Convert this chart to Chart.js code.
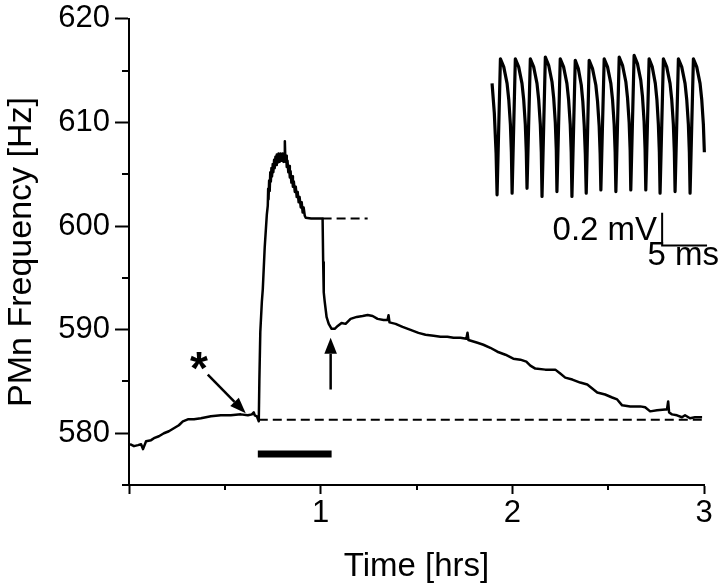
<!DOCTYPE html>
<html>
<head>
<meta charset="utf-8">
<script src="https://cdn.jsdelivr.net/npm/chart.js@4"></script>
<style>
  html, body { margin: 0; padding: 0; background: #ffffff; }
  #wrap { width: 720px; height: 588px; position: relative; }
</style>
</head>
<body>
<div id="wrap"><canvas id="c" width="720" height="588"></canvas></div>
<script>
// ---------- data ----------
const timeHrs = [0.005,0.026,0.047,0.063,0.073,0.089,0.115,0.130,0.156,0.182,0.208,0.234,0.260,0.281,0.307,0.339,0.375,0.427,0.479,0.531,0.583,0.620,0.641,0.651,0.656,0.667,0.677,
  0.680,0.685,0.693,0.698,0.708,0.719,0.724,
  0.726,0.728,0.731,0.734,0.737,0.740,0.743,0.746,0.750,0.753,0.757,0.760,0.764,0.768,0.771,0.775,0.780,0.786,0.791,0.797,0.802,0.806,0.810,0.813,0.816,0.820,0.823,0.827,0.831,0.835,0.839,0.843,0.847,0.851,0.855,0.860,0.865,0.870,0.875,0.880,0.885,0.890,0.896,0.901,0.906,0.911,0.917,0.922,0.950,1.010,
  1.013,1.016,1.021,1.031,1.042,1.057,1.073,1.089,1.109,1.130,1.156,1.188,1.219,1.245,1.271,1.297,1.328,1.349,1.354,1.359,1.391,1.427,1.469,1.510,1.547,1.589,1.625,1.661,1.693,1.729,1.760,1.766,1.771,1.818,1.849,1.885,1.922,1.964,2.005,2.042,2.073,2.094,2.120,2.172,2.224,2.250,2.276,2.313,2.354,2.391,2.417,2.443,2.484,2.521,2.547,2.573,2.615,2.667,2.693,2.719,2.755,2.797,2.807,2.813,2.818,2.833,2.859,2.885,2.901,2.927,2.953,2.990];
const freqHz = [578.94,578.75,578.85,578.94,578.46,579.23,579.33,579.52,579.71,580.00,580.19,580.48,580.77,581.15,581.34,581.34,581.44,581.63,581.73,581.73,581.82,581.73,581.82,582.02,581.73,581.63,581.15,
  584.99,589.79,592.67,593.92,597.95,601.11,601.98,
  603.6,602.6,604.4,603.4,605.2,604.3,605.6,604.8,606.0,605.2,606.4,605.6,606.7,605.9,606.9,606.1,607.0,606.2,607.0,606.3,607.0,606.2,606.9,608.2,606.2,606.8,605.7,606.3,605.2,605.8,604.7,605.3,604.2,604.8,603.8,604.3,603.3,603.8,602.8,603.3,602.3,602.8,601.8,602.3,601.3,601.8,601.0,600.8,600.73,600.73,
  596.5,593.6,592.7,591.2,590.56,590.08,590.08,590.36,590.65,590.56,591.04,591.23,591.32,591.42,591.32,591.04,590.94,590.94,591.4,590.7,590.56,590.27,589.98,589.69,589.50,589.40,589.31,589.31,589.21,589.21,589.12,589.7,589.0,588.73,588.54,588.25,587.87,587.58,587.20,587.10,586.91,586.53,586.24,586.14,586.14,585.76,585.37,585.18,584.89,584.70,584.32,583.93,583.74,583.45,583.26,582.69,582.59,582.59,582.50,582.11,582.21,582.30,582.30,583.07,582.0,581.82,581.73,581.54,581.73,581.44,581.54,581.54];

const baselineHrs = [0.677, 2.990];
const baselineHz  = [581.3, 581.3];
const plateauHrs  = [1.010, 1.245];
const plateauHz   = [600.73, 600.73];
const stimHrs     = [0.672, 1.057];
const stimHz      = [578.0, 578.0];

// inset: motoneuron recording (ms, mV)
const insetMs = [0,0.25,0.45,0.556,
  0.93,1.30,1.67,1.86,2.04,2.15,2.23,
  2.59,2.96,3.33,3.52,3.70,3.81,3.89,
  4.26,4.63,5.00,5.19,5.37,5.48,5.56,
  5.93,6.30,6.67,6.86,7.04,7.15,7.22,
  7.59,7.96,8.33,8.52,8.70,8.81,8.89,
  9.26,9.60,9.93,10.10,10.26,10.38,10.48,
  10.81,11.18,11.55,11.74,11.92,12.03,12.11,
  12.48,12.85,13.22,13.41,13.59,13.70,13.78,
  14.15,14.52,14.89,15.08,15.26,15.37,15.44,
  15.81,16.18,16.55,16.74,16.92,17.03,17.11,
  17.48,17.83,18.17,18.35,18.51,18.62,18.70,
  19.07,19.44,19.81,20.00,20.18,20.29,20.37,
  20.74,21.11,21.48,21.67,21.85,21.96,22.04,
  22.41,22.78,23.15,23.34,23.52,23.63,23.70,
  24.07];
const insetMv = [0.68,0.50,0.25,0.00,
  0.83,0.78,0.68,0.58,0.43,0.26,0.01,
  0.83,0.78,0.68,0.58,0.43,0.26,0.04,
  0.83,0.78,0.68,0.58,0.43,0.26,-0.01,
  0.84,0.79,0.69,0.59,0.44,0.27,0.02,
  0.83,0.78,0.68,0.58,0.43,0.26,-0.01,
  0.82,0.77,0.67,0.57,0.42,0.25,0.01,
  0.82,0.77,0.67,0.57,0.42,0.25,0.03,
  0.83,0.78,0.68,0.58,0.43,0.26,0.02,
  0.84,0.79,0.69,0.59,0.44,0.27,0.03,
  0.85,0.80,0.70,0.60,0.45,0.28,0.03,
  0.83,0.78,0.68,0.58,0.43,0.26,0.01,
  0.83,0.78,0.68,0.58,0.43,0.26,0.02,
  0.83,0.78,0.68,0.58,0.43,0.26,0.01,
  0.83,0.78,0.68,0.58,0.43,0.26,0.00,
  0.76];
const scaleBarMs = [18.93, 18.93, 23.93];
const scaleBarMv = [-0.109, -0.309, -0.309];

const xTickLabels = {1: '1', 2: '2', 3: '3'};
const yTickLabels = {580: '580', 590: '590', 600: '600', 610: '610', 620: '620'};

// ---------- chart ----------
const FONT = '"Liberation Sans", Arial, Helvetica, sans-serif';
const zip = (xs, ys) => xs.map((v, i) => ({x: v, y: ys[i]}));

const annotations = {
  id: 'annotations',
  afterDatasetsDraw(chart) {
    const {ctx, scales} = chart;
    const x = scales.x, y = scales.y, x2 = scales.x2, y2 = scales.y2;
    ctx.save();
    ctx.fillStyle = '#000';
    ctx.strokeStyle = '#000';

    // minor ticks
    ctx.lineWidth = 2;
    [575, 585, 595, 605, 615].forEach(v => {
      const py = Math.round(y.getPixelForValue(v));
      ctx.beginPath(); ctx.moveTo(x.left - 7, py); ctx.lineTo(x.left, py); ctx.stroke();
    });
    [0.5, 1.5, 2.5].forEach(v => {
      const px = Math.round(x.getPixelForValue(v));
      ctx.beginPath(); ctx.moveTo(px, y.bottom); ctx.lineTo(px, y.bottom + 5); ctx.stroke();
    });

    // asterisk
    ctx.font = 'bold 46px ' + FONT;
    ctx.textAlign = 'center';
    ctx.textBaseline = 'alphabetic';
    const m = ctx.measureText('*');
    const cx = x.getPixelForValue(0.365), cy = y.getPixelForValue(587.0);
    ctx.fillText('*', cx, cy + (m.actualBoundingBoxAscent - m.actualBoundingBoxDescent) / 2);

    // arrows
    function arrow(x0, y0, x1, y1, headLen, headHalf) {
      const ang = Math.atan2(y1 - y0, x1 - x0);
      const bx = x1 - headLen * Math.cos(ang), by = y1 - headLen * Math.sin(ang);
      ctx.lineWidth = 2.5;
      ctx.beginPath(); ctx.moveTo(x0, y0); ctx.lineTo(bx, by); ctx.stroke();
      ctx.beginPath();
      ctx.moveTo(x1, y1);
      ctx.lineTo(bx + headHalf * Math.sin(ang), by - headHalf * Math.cos(ang));
      ctx.lineTo(bx - headHalf * Math.sin(ang), by + headHalf * Math.cos(ang));
      ctx.closePath(); ctx.fill();
    }
    arrow(x.getPixelForValue(0.411), y.getPixelForValue(585.66),
          x.getPixelForValue(0.609), y.getPixelForValue(581.92), 16, 6);
    arrow(x.getPixelForValue(1.052), y.getPixelForValue(584.22),
          x.getPixelForValue(1.052), y.getPixelForValue(589.21), 16, 6.3);

    // inset scale-bar labels
    ctx.font = '33px ' + FONT;
    ctx.textBaseline = 'alphabetic';
    ctx.textAlign = 'right';
    ctx.fillText('0.2 mV', x2.getPixelForValue(18.37), y2.getPixelForValue(-0.273));
    ctx.textAlign = 'left';
    ctx.fillText('5 ms', x2.getPixelForValue(17.30), y2.getPixelForValue(-0.430));
    ctx.restore();
  }
};

const lineDs = (data, extra) => Object.assign({
  data, showLine: true, borderColor: '#000', backgroundColor: '#000',
  borderWidth: 2.5, pointRadius: 0, tension: 0, fill: false,
  borderJoinStyle: 'round'
}, extra);

new Chart(document.getElementById('c'), {
  type: 'scatter',
  data: {
    datasets: [
      lineDs(zip(timeHrs, freqHz), {label: 'PMn frequency'}),
      lineDs(zip(baselineHrs, baselineHz), {label: 'baseline', borderDash: [9, 5], borderWidth: 2}),
      lineDs(zip(plateauHrs, plateauHz), {label: 'plateau', borderDash: [9, 5], borderWidth: 2}),
      lineDs(zip(stimHrs, stimHz), {label: 'stimulus', borderWidth: 7, borderCapStyle: 'butt'}),
      lineDs(zip(insetMs, insetMv), {label: 'recording', xAxisID: 'x2', yAxisID: 'y2', borderWidth: 3.2, clip: false}),
      lineDs(zip(scaleBarMs, scaleBarMv), {label: 'scale bar', xAxisID: 'x2', yAxisID: 'y2', borderWidth: 2, clip: false, borderJoinStyle: 'miter'})
    ]
  },
  options: {
    responsive: true,
    maintainAspectRatio: false,
    animation: false,
    devicePixelRatio: 1,
    layout: { padding: { left: 0, right: 16, top: 15, bottom: 0 } },
    plugins: { legend: { display: false }, tooltip: { enabled: false } },
    scales: {
      x: {
        type: 'linear', min: 0, max: 3,
        ticks: {
          stepSize: 0.5, autoSkip: false, maxRotation: 0, padding: 1, color: '#000',
          font: { family: FONT, size: 31 },
          callback: v => xTickLabels[v] || ''
        },
        grid: {
          drawOnChartArea: false, drawTicks: true, tickLength: 9, tickWidth: 2,
          tickColor: c => (Number.isInteger(c.tick.value) ? '#000' : 'rgba(0,0,0,0)')
        },
        border: { display: true, color: '#000', width: 2 },
        title: { display: true, text: 'Time [hrs]', color: '#000',
                 font: { family: FONT, size: 33 }, padding: { top: 13.5, bottom: 1.7 } }
      },
      y: {
        type: 'linear', min: 575, max: 620,
        ticks: {
          stepSize: 5, autoSkip: false, padding: 5, color: '#000',
          font: { family: FONT, size: 31, lineHeight: 0.9 },
          callback: v => yTickLabels[v] || ''
        },
        grid: {
          drawOnChartArea: false, drawTicks: true, tickLength: 14, tickWidth: 2,
          tickColor: c => (c.tick.value % 10 === 0 ? '#000' : 'rgba(0,0,0,0)')
        },
        border: { display: true, color: '#000', width: 2 },
        title: { display: true, text: 'PMn Frequency [Hz]', color: '#000',
                 font: { family: FONT, size: 34 }, padding: { top: 1.6, bottom: 10.9 } }
      },
      x2: { type: 'linear', display: false, min: -40.41, max: 23.59 },
      y2: { type: 'linear', display: false, min: -1.7697, max: 1.0727 }
    }
  },
  plugins: [annotations]
});
</script>
</body>
</html>
